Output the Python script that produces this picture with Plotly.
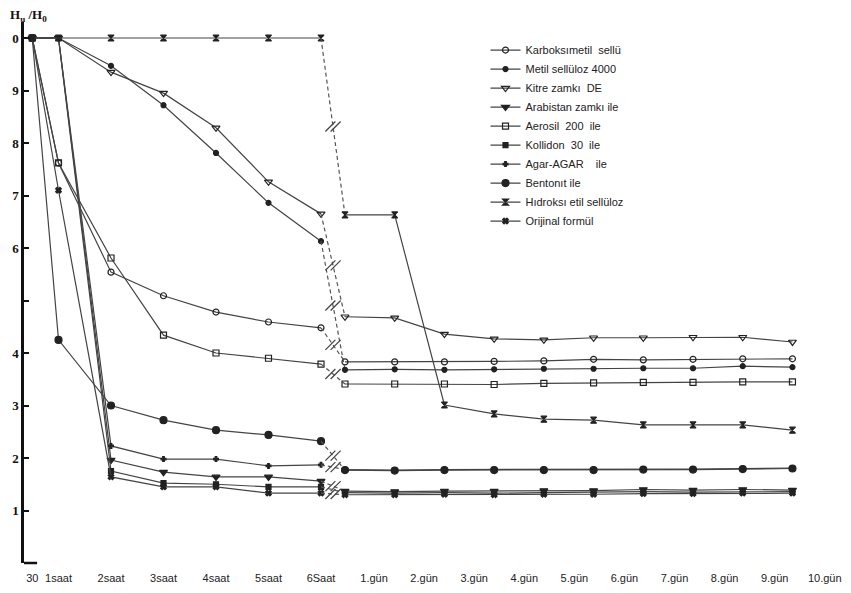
import plotly.graph_objects as go

# ---------------- data ----------------
hour_labels = ["30", "1saat", "2saat", "3saat", "4saat", "5saat", "6Saat"]
hour_times = [0.5, 1, 2, 3, 4, 5, 6]
day_labels = ["1.gün", "2.gün", "3.gün", "4.gün", "5.gün", "6.gün", "7.gün", "8.gün", "9.gün", "10.gün"]
day_numbers = [1, 2, 3, 4, 5, 6, 7, 8, 9, 10]

series_names = [
    "Karboksımetil  sellü",
    "Metil sellüloz 4000",
    "Kitre zamkı  DE",
    "Arabistan zamkı ile",
    "Aerosil  200  ile",
    "Kollidon  30  ile",
    "Agar-AGAR    ile",
    "Bentonıt ile",
    "Hıdroksı etil sellüloz",
    "Orijinal formül",
]

karboksimetil_h = [1.0, 0.762, 0.554, 0.509, 0.478, 0.459, 0.448]
karboksimetil_d = [0.383, 0.383, 0.383, 0.384, 0.385, 0.388, 0.387, 0.388, 0.389, 0.389]
metil_h = [1.0, 1.0, 0.947, 0.872, 0.781, 0.686, 0.613]
metil_d = [0.368, 0.369, 0.368, 0.369, 0.370, 0.370, 0.371, 0.371, 0.375, 0.373]
kitre_h = [1.0, 1.0, 0.935, 0.895, 0.829, 0.726, 0.665]
kitre_d = [0.469, 0.467, 0.436, 0.427, 0.425, 0.429, 0.429, 0.430, 0.430, 0.421]
arabistan_h = [1.0, 1.0, 0.196, 0.173, 0.164, 0.164, 0.156]
arabistan_d = [0.137, 0.136, 0.137, 0.137, 0.138, 0.138, 0.140, 0.139, 0.140, 0.139]
aerosil_h = [1.0, 0.762, 0.581, 0.434, 0.400, 0.390, 0.379]
aerosil_d = [0.341, 0.341, 0.341, 0.340, 0.342, 0.343, 0.344, 0.344, 0.345, 0.345]
kollidon_h = [1.0, 1.0, 0.175, 0.152, 0.150, 0.145, 0.145]
kollidon_d = [0.134, 0.133, 0.134, 0.133, 0.134, 0.135, 0.136, 0.135, 0.136, 0.136]
agar_h = [1.0, 1.0, 0.223, 0.198, 0.198, 0.185, 0.187]
agar_d = [0.178, 0.177, 0.178, 0.178, 0.178, 0.178, 0.179, 0.179, 0.180, 0.181]
bentonit_h = [1.0, 0.425, 0.300, 0.272, 0.253, 0.244, 0.232]
bentonit_d = [0.177, 0.176, 0.177, 0.177, 0.177, 0.177, 0.178, 0.178, 0.179, 0.180]
hes_h = [1.0, 1.0, 1.0, 1.0, 1.0, 1.0, 1.0]
hes_d = [0.663, 0.663, 0.301, 0.284, 0.274, 0.272, 0.263, 0.263, 0.263, 0.253]
orijinal_h = [1.0, 0.710, 0.164, 0.145, 0.145, 0.133, 0.133]
orijinal_d = [0.130, 0.130, 0.131, 0.130, 0.131, 0.131, 0.132, 0.132, 0.133, 0.133]

y_tickvals = [1.0, 0.9, 0.8, 0.7, 0.6, 0.4, 0.3, 0.2, 0.1]
y_ticktext = ["0", "9", "8", "7", "6", "4", "3", "2", "1"]

hours_series = [karboksimetil_h, metil_h, kitre_h, arabistan_h, aerosil_h,
                kollidon_h, agar_h, bentonit_h, hes_h, orijinal_h]
days_series = [karboksimetil_d, metil_d, kitre_d, arabistan_d, aerosil_d,
               kollidon_d, agar_d, bentonit_d, hes_d, orijinal_d]

# ---------------- styling ----------------
symbols = ["circle-open", "circle", "triangle-down-open", "triangle-down", "square-open",
           "square", "cross", "circle", "hourglass", "x"]
msizes = [6, 5, 7, 7, 6, 5, 4, 7, 6, 5]
LINE = "#444444"
MARK = "#222222"
FONT = "Liberation Sans, Arial"

# broken time axis: hours part, then compressed day part
DAY_START, DAY_STEP = 6.457, 0.947
LABEL_START, LABEL_STEP = 7.01, 0.954
x_hours = list(hour_times)
x_days = [DAY_START + DAY_STEP * (d - 1) for d in day_numbers]
x_day_labels = [LABEL_START + LABEL_STEP * (d - 1) for d in day_numbers]

fig = go.Figure()
break_x, break_y = [], []
for name, hv, dv, sym, ms in zip(series_names, hours_series, days_series, symbols, msizes):
    mk = dict(symbol=sym, size=ms, color=MARK, line=dict(color=MARK, width=1.2))
    fig.add_trace(go.Scatter(x=x_hours, y=hv, mode="lines+markers", name=name,
                             legendgroup=name, line=dict(color=LINE, width=1.2),
                             marker=mk))
    # dashed broken-axis connector
    fig.add_trace(go.Scatter(x=[x_hours[-1], x_days[0]], y=[hv[-1], dv[0]], mode="lines",
                             legendgroup=name, showlegend=False, hoverinfo="skip",
                             line=dict(color="#555555", width=1.2, dash="4px,3px")))
    fig.add_trace(go.Scatter(x=x_days, y=dv, mode="lines+markers", name=name,
                             legendgroup=name, showlegend=False,
                             line=dict(color=LINE, width=1.2), marker=mk))
    my = (hv[-1] + dv[0]) / 2
    if all(abs(my - b) > 0.012 for b in break_y):
        mx = (x_hours[-1] + x_days[0]) / 2
        break_x += [mx - 0.05, mx + 0.05]
        break_y += [my, my]

# "//" break marks on the connectors
fig.add_trace(go.Scatter(x=break_x, y=break_y, mode="markers", showlegend=False,
                         hoverinfo="skip",
                         marker=dict(symbol="line-ne-open", size=10, color="#444444",
                                     line=dict(color="#444444", width=1.2))))

# page body has an 8px margin; figure sized to sit inside the 851x593 window
W, H = 835, 577
L, R, T, B = 16, 0, 14, 22
px_per_unit = 52.5
axis_px = 8 + L
x0 = (axis_px - 6) / px_per_unit
x1 = x0 + (W - L - R) / px_per_unit
y_top = 1 + (38 - 22) / 525.0
plot_h = H - T - B

fig.update_layout(
    width=W, height=H,
    margin=dict(l=L, r=R, t=T, b=B),
    paper_bgcolor="white", plot_bgcolor="white",
    showlegend=True,
    legend=dict(x=0.5635, y=0.975, xanchor="left", yanchor="top",
                bgcolor="rgba(0,0,0,0)", itemwidth=30, tracegroupgap=0,
                font=dict(family=FONT, size=11, color="#222222")),
    xaxis=dict(range=[x0, x1], showgrid=False, zeroline=False, showline=False,
               automargin=False,
               tickmode="array", tickvals=x_hours + x_day_labels,
               ticktext=hour_labels + day_labels, ticks="", ticklabelstandoff=7,
               tickfont=dict(family=FONT, size=11, color="#222222")),
    yaxis=dict(range=[0, y_top], showgrid=False, zeroline=False, showline=True,
               automargin=False,
               linecolor="#111111", linewidth=2.5, ticks="inside", ticklen=5,
               tickwidth=1.5, tickcolor="#111111", tickmode="array",
               tickvals=y_tickvals, ticktext=y_ticktext,
               minor=dict(ticks="inside", ticklen=5, tickwidth=1.5, tickcolor="#111111",
                          tickmode="array", tickvals=[0.5], showgrid=False),
               tickfont=dict(family="Liberation Serif", size=13, color="#111111",
                             weight="bold")),
    annotations=[dict(xref="paper", yref="paper", x=-L / (W - L - R), y=1 + (T - 7) / plot_h,
                      xanchor="left", yanchor="middle", showarrow=False,
                      text="<b>H<sub>u</sub> /H<sub>0</sub></b>",
                      font=dict(family="Liberation Serif", size=13, color="#111111"))],
    shapes=[dict(type="line", xref="paper", yref="paper", x0=0, x1=0.016, y0=0, y1=0,
                 line=dict(color="#111111", width=2.5))],
)

fig.write_html("out.html")
